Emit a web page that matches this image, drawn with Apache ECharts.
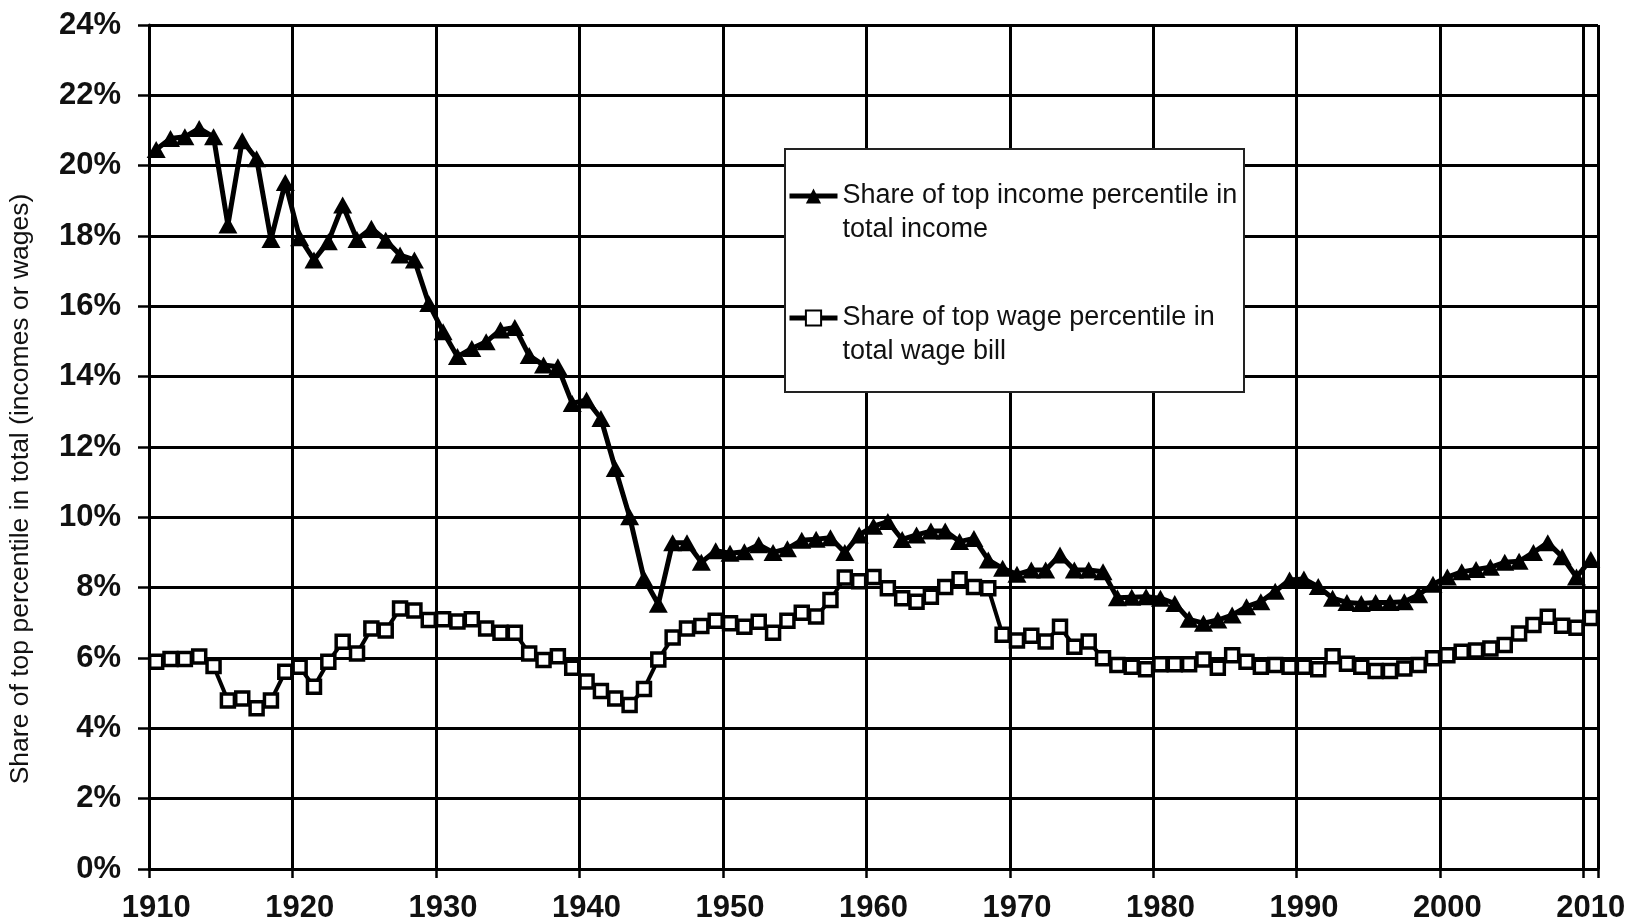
<!DOCTYPE html>
<html>
<head>
<meta charset="utf-8">
<title>Top percentile shares, 1910-2010</title>
<script src="https://cdn.jsdelivr.net/npm/echarts@6.0.0/dist/echarts.min.js"></script>
<style>
  html, body { margin: 0; padding: 0; background: #fff; }
  #chart { width: 1630px; height: 924px; }
</style>
</head>
<body>
<div id="chart"></div>
<script>
// categories
const years = [
  1910, 1911, 1912, 1913, 1914, 1915, 1916, 1917, 1918, 1919,
  1920, 1921, 1922, 1923, 1924, 1925, 1926, 1927, 1928, 1929,
  1930, 1931, 1932, 1933, 1934, 1935, 1936, 1937, 1938, 1939,
  1940, 1941, 1942, 1943, 1944, 1945, 1946, 1947, 1948, 1949,
  1950, 1951, 1952, 1953, 1954, 1955, 1956, 1957, 1958, 1959,
  1960, 1961, 1962, 1963, 1964, 1965, 1966, 1967, 1968, 1969,
  1970, 1971, 1972, 1973, 1974, 1975, 1976, 1977, 1978, 1979,
  1980, 1981, 1982, 1983, 1984, 1985, 1986, 1987, 1988, 1989,
  1990, 1991, 1992, 1993, 1994, 1995, 1996, 1997, 1998, 1999,
  2000, 2001, 2002, 2003, 2004, 2005, 2006, 2007, 2008, 2009,
  2010
];

// share of top income percentile in total income (%)
const incomeShare = [
  20.46, 20.77, 20.82, 21.06, 20.82, 18.31, 20.71, 20.2, 17.9, 19.52,
  17.95, 17.32, 17.84, 18.88, 17.9, 18.22, 17.88, 17.46, 17.32, 16.08,
  15.28, 14.57, 14.8, 14.99, 15.33, 15.4, 14.6, 14.33, 14.28, 13.24,
  13.34, 12.81, 11.39, 10.02, 8.26, 7.53, 9.28, 9.28, 8.72, 9.05,
  8.98, 9.02, 9.22, 9.0, 9.11, 9.35, 9.38, 9.42, 9.0, 9.5,
  9.75, 9.88, 9.37, 9.5, 9.61, 9.61, 9.31, 9.4, 8.79, 8.55,
  8.38, 8.5, 8.5, 8.93, 8.5, 8.5, 8.45, 7.71, 7.73, 7.74,
  7.7, 7.55, 7.1, 6.99, 7.08, 7.22, 7.46, 7.6, 7.9, 8.22,
  8.25, 8.03, 7.7, 7.58, 7.55, 7.58, 7.58, 7.6, 7.8, 8.1,
  8.3, 8.45, 8.52, 8.58, 8.72, 8.75, 9.0, 9.28, 8.88, 8.3,
  8.8
];

// share of top wage percentile in total wage bill (%)
const wageShare = [
  5.89, 5.97, 5.97, 6.04, 5.77, 4.79, 4.85, 4.57, 4.79, 5.61,
  5.75, 5.18, 5.89, 6.46, 6.13, 6.84, 6.78, 7.41, 7.35, 7.08,
  7.1, 7.04, 7.1, 6.84, 6.72, 6.72, 6.13, 5.94, 6.05, 5.72,
  5.33, 5.06, 4.85, 4.66, 5.12, 5.96, 6.58, 6.84, 6.91, 7.06,
  6.99, 6.89, 7.03, 6.72, 7.06, 7.29, 7.18, 7.65, 8.29, 8.18,
  8.3, 7.98, 7.7, 7.6, 7.74, 8.02, 8.24, 8.02, 7.98, 6.66,
  6.5, 6.63, 6.47, 6.89, 6.32, 6.47, 5.99, 5.8, 5.75, 5.68,
  5.82, 5.82, 5.82, 5.96, 5.72, 6.08, 5.89, 5.75, 5.8, 5.75,
  5.75, 5.68, 6.05, 5.84, 5.75, 5.63, 5.63, 5.7, 5.8, 5.99,
  6.08, 6.18, 6.21, 6.27, 6.37, 6.7, 6.94, 7.17, 6.92, 6.86,
  7.14
];

const seriesNames = [
  'Share of top income percentile in total income',
  'Share of top wage percentile in total wage bill'
];
// leading blank line keeps the legend marker level with the first text line
const legendLabels = [
  ' \nShare of top income percentile in\ntotal income',
  ' \nShare of top wage percentile in\ntotal wage bill'
];
const yAxisTitle = 'Share of top percentile in total (incomes or wages)';

const font = '"Liberation Sans", Arial, Helvetica, sans-serif';
const ink = '#000';

const chart = echarts.init(document.getElementById('chart'));

const option = {
  animation: false,
  backgroundColor: '#fff',
  textStyle: { fontFamily: font },
  grid: { left: 149, right: 32, top: 25, bottom: 55 },
  xAxis: {
    type: 'category',
    data: years.map(String),
    boundaryGap: true,
    axisLine: { show: true, lineStyle: { color: ink, width: 3 } },
    axisTick: { show: true, interval: 9, length: 9, lineStyle: { color: ink, width: 2.5 } },
    axisLabel: { interval: 9, fontSize: 31, fontWeight: 'bold', margin: 24, color: '#111', fontFamily: font },
    splitLine: { show: true, interval: 9, lineStyle: { color: ink, width: 3 } }
  },
  yAxis: {
    type: 'value',
    min: 0,
    max: 24,
    interval: 2,
    axisLine: { show: true, lineStyle: { color: ink, width: 3 } },
    axisTick: { show: true, length: 11, lineStyle: { color: ink, width: 2.5 } },
    axisLabel: { formatter: '{value}%', fontSize: 31, fontWeight: 'bold', margin: 28, color: '#111', fontFamily: font },
    splitLine: { show: true, lineStyle: { color: ink, width: 3 } }
  },
  legend: {
    orient: 'vertical',
    left: 787,
    top: 145,
    padding: 0,
    itemWidth: 48,
    itemHeight: 19,
    itemGap: 20,
    selectedMode: false,
    data: seriesNames,
    formatter: name => legendLabels[seriesNames.indexOf(name)],
    lineStyle: { width: 5 },
    textStyle: {
      fontSize: 27,
      lineHeight: 34,
      color: '#111',
      fontFamily: font
    }
  },
  graphic: [
    {
      type: 'rect',
      z: 3,
      shape: { x: 785, y: 149, width: 459, height: 243 },
      style: { fill: '#fff', stroke: '#222', lineWidth: 2 }
    },
    {
      type: 'text',
      z: 3,
      x: 21,
      y: 489,
      rotation: Math.PI / 2,
      style: {
        text: yAxisTitle,
        fontSize: 26.5,
        fontFamily: font,
        fill: '#111',
        align: 'center',
        verticalAlign: 'middle'
      }
    }
  ],
  series: [
    {
      name: seriesNames[1],
      type: 'line',
      data: wageShare,
      symbol: 'rect',
      symbolSize: 13,
      showAllSymbol: true,
      lineStyle: { color: ink, width: 4 },
      itemStyle: { color: '#fff', borderColor: ink, borderWidth: 3.5 },
      emphasis: { disabled: true }
    },
    {
      name: seriesNames[0],
      type: 'line',
      data: incomeShare,
      symbol: 'triangle',
      symbolSize: [19, 17],
      showAllSymbol: true,
      lineStyle: { color: ink, width: 5 },
      itemStyle: { color: ink },
      emphasis: { disabled: true }
    }
  ]
};

chart.setOption(option);
</script>
</body>
</html>
